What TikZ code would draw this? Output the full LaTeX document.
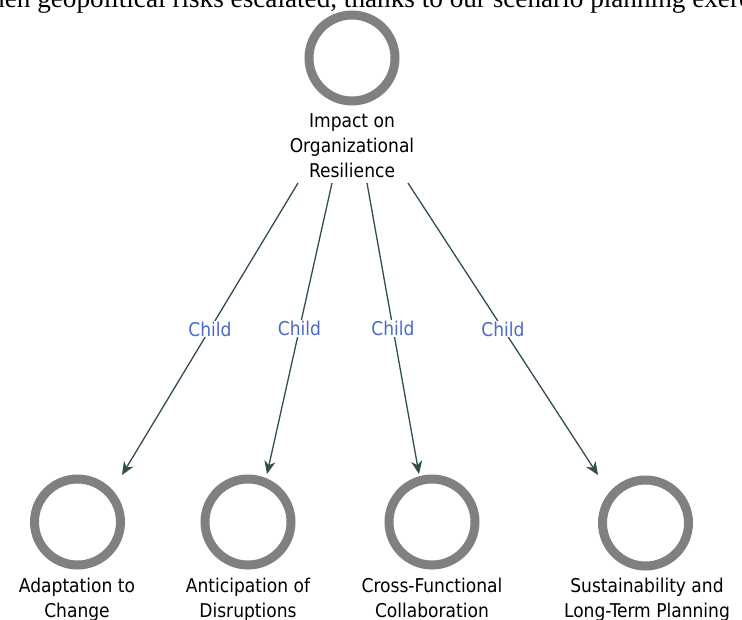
\documentclass[tikz,border=0pt]{standalone}
\usepackage{fontspec}
\setmainfont{DejaVu Sans Condensed}
\newfontfamily\serifline{Liberation Serif}
\usetikzlibrary{arrows.meta}
\definecolor{ringgray}{HTML}{808080}
\definecolor{edgeteal}{HTML}{2F4F4F}
\definecolor{childblue}{HTML}{4A6AC8}
\begin{document}
\begin{tikzpicture}[x=1pt,y=-1pt,
  ring/.style={circle,draw=ringgray,line width=9pt,minimum size=86pt,inner sep=0pt},
  lbl/.style={align=center,font=\fontsize{19}{25}\selectfont,text=black,inner sep=0pt},
  edge/.style={draw=edgeteal,line width=1.3pt,-{Stealth[length=13pt,width=11pt,inset=4pt]}},
  childlbl/.style={fill=white,text=childblue,font=\fontsize{19}{22}\selectfont,inner sep=1pt}]
\useasboundingbox (0,0) rectangle (742,619);
\clip (0,0) rectangle (742,619);
\node[anchor=base west,inner sep=0pt,font=\serifline\fontsize{27.2}{30}\selectfont] (cap) at (-9,7) {hen geopolitical risks escalated, thanks to our scenario planning exercise};
\node[ring] (top) at (352,58) {};
\node[lbl,anchor=north] (toplbl) at (352,113.5) {Impact on\\Organizational\\Resilience};
\node[ring] (c1) at (77.5,522) {};
\node[ring] (c2) at (248,522) {};
\node[ring] (c3) at (432,522) {};
\node[ring] (c4) at (645.5,523) {};
\node[lbl,anchor=north] (l1) at (77,577.5) {Adaptation to\\Change};
\node[lbl,anchor=north] (l2) at (248,577.5) {Anticipation of\\Disruptions};
\node[lbl,anchor=north] (l3) at (432,577.5) {Cross-Functional\\Collaboration};
\node[lbl,anchor=north] (l4) at (647,577.5) {Sustainability and\\Long-Term Planning};
\coordinate (s1) at (298,183);
\coordinate (s2) at (332,183);
\coordinate (s3) at (367,183);
\coordinate (s4) at (408,183);
\coordinate (e1) at (122,475);
\coordinate (e2) at (267,474);
\coordinate (e3) at (419,474);
\coordinate (e4) at (598,475);
\draw[edge] (s1) -- node[childlbl,pos=0.5] (k1) {Child} (e1);
\draw[edge] (s2) -- node[childlbl,pos=0.5] (k2) {Child} (e2);
\draw[edge] (s3) -- node[childlbl,pos=0.5] (k3) {Child} (e3);
\draw[edge] (s4) -- node[childlbl,pos=0.5] (k4) {Child} (e4);
\end{tikzpicture}
\end{document}
